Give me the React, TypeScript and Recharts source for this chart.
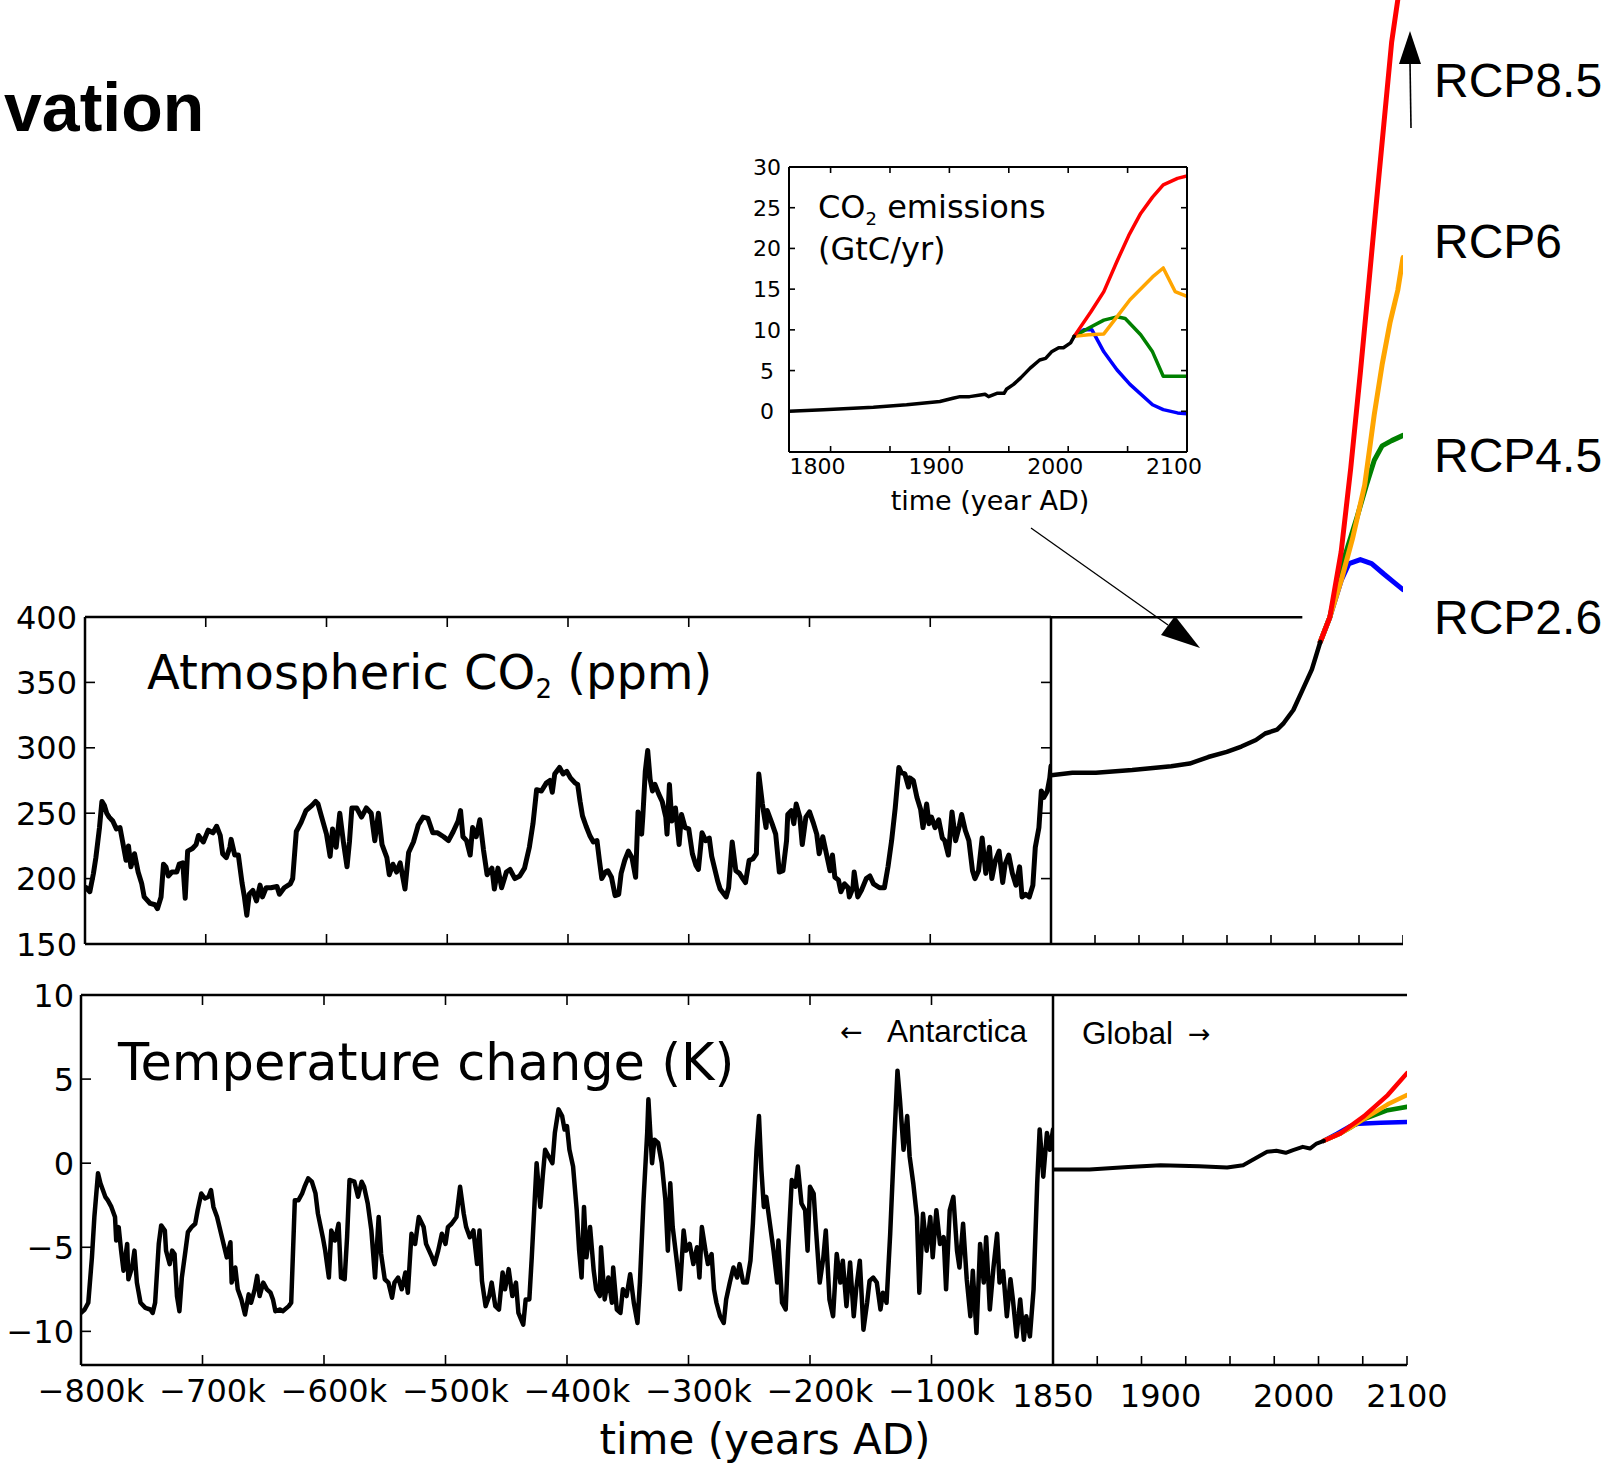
import React from 'react';
import { LineChart, Line, XAxis, YAxis, ReferenceLine } from 'recharts';

// ---------------- data ----------------
// Antarctic ice core CO2 (kyr relative to present, ppm)
const co2IceCore: [number, number][] = [
  [-799,193],[-796,190],[-793,204],[-791,216],[-788,239],[-786,259],[-784,256],[-782,250],[-780,247],[-777,244],[-774,238],[-771,239],[-769,229],[-766,214],[-764,225],[-762,209],[-759,219],[-756,205],[-753,196],[-751,186],[-746,181],[-742,180],[-740,177],[-737,186],[-735,211],[-733,209],[-731,202],[-728,205],[-724,205],[-722,211],[-719,212],[-717,185],[-715,221],[-711,223],[-708,226],[-706,233],[-702,228],[-698,237],[-694,235],[-691,240],[-688,233],[-686,219],[-683,216],[-680,224],[-679,230],[-676,218],[-673,218],[-670,197],[-668,186],[-666,172],[-664,188],[-661,191],[-658,183],[-655,195],[-653,186],[-650,193],[-646,193],[-641,194],[-639,188],[-635,193],[-630,196],[-628,200],[-625,236],[-621,243],[-617,252],[-612,256],[-609,259],[-607,257],[-604,247],[-600,234],[-597,217],[-595,238],[-592,224],[-589,250],[-586,228],[-583,209],[-581,228],[-579,254],[-575,254],[-571,247],[-567,254],[-563,250],[-560,229],[-557,250],[-554,226],[-550,216],[-548,203],[-545,211],[-542,205],[-539,212],[-535,192],[-532,220],[-528,228],[-524,241],[-520,247],[-516,246],[-512,235],[-508,235],[-503,232],[-499,229],[-495,236],[-491,244],[-489,252],[-487,232],[-484,229],[-481,218],[-479,239],[-476,232],[-473,245],[-470,222],[-467,203],[-463,208],[-461,192],[-458,208],[-455,193],[-451,205],[-448,207],[-444,200],[-440,202],[-436,208],[-432,224],[-429,242],[-426,268],[-422,267],[-418,273],[-415,275],[-413,266],[-411,280],[-407,285],[-404,280],[-401,282],[-398,277],
  [-394,273],[-392,272],[-390,259],[-388,248],[-385,240],[-382,233],[-379,228],[-376,229],[-374,214],[-372,200],[-369,205],[-367,206],[-364,201],[-361,187],[-358,188],[-356,204],[-353,214],[-350,221],[-347,216],[-344,201],[-342,251],[-339,234],[-338,248],[-336,282],[-334,298],[-332,276],[-330,267],[-328,272],[-325,265],[-322,259],[-319,247],[-318,234],[-316,272],[-314,244],[-311,254],[-308,226],[-306,249],[-303,239],[-300,238],[-297,219],[-294,210],[-292,207],[-289,235],[-286,229],[-283,231],[-281,217],[-276,198],[-274,192],[-269,186],[-267,193],[-264,228],[-261,206],[-258,204],[-256,201],[-253,197],[-250,214],[-247,215],[-244,219],[-242,280],[-239,257],[-236,239],[-235,252],[-231,242],[-228,234],[-225,205],[-222,206],[-219,229],[-218,249],[-215,252],[-213,242],[-211,257],[-208,247],[-206,226],[-203,247],[-200,251],[-197,243],[-194,234],[-192,219],[-189,232],[-186,219],[-183,206],[-181,218],[-179,201],[-176,199],[-174,190],[-171,196],[-168,193],[-167,186],[-164,193],[-163,205],[-160,186],[-157,191],[-153,200],[-150,202],[-147,196],[-142,193],[-138,193],[-135,209],[-132,229],[-129,254],[-126,285],[-124,281],[-121,280],[-118,270],[-117,277],[-114,275],[-111,262],[-108,253],[-106,239],[-103,257],[-101,242],[-99,247],[-96,239],[-93,245],[-90,231],[-88,229],[-85,218],[-82,251],[-79,229],[-76,240],[-74,249],[-71,237],[-68,229],[-65,206],[-63,200],[-60,206],[-57,231],[-54,204],[-51,224],[-49,200],[-46,214],[-43,221],[-40,197],[-38,211],[-35,218],[-32,204],[-29,195],[-26,209],[-24,186],[-21,188],[-18,186],[-15,195],[-13,224],[-10,239],[-8,267],[-6,262],[-3,267],[-1,277],[0,286]
];

// Antarctic temperature change (kyr, K)
const tempAntarctica: [number, number][] = [
  [-800,-8.9],[-797,-8.7],[-794,-8.3],[-791,-5.6],[-789,-3.2],[-786,-0.6],[-784,-1.2],[-782,-1.6],[-780,-2.0],[-778,-2.2],[-775,-2.6],[-772,-3.2],[-771,-4.6],[-769,-3.8],[-767,-5.2],[-765,-6.4],[-762,-4.8],[-761,-6.9],[-758,-6.2],[-756,-5.2],[-754,-7.1],[-751,-8.3],[-747,-8.6],[-743,-8.7],[-741,-8.9],[-739,-8.3],[-736,-4.8],[-734,-3.7],[-731,-4.0],[-730,-5.2],[-727,-6.0],[-725,-5.2],[-723,-5.4],[-721,-7.9],[-719,-8.8],[-717,-6.8],[-714,-5.2],[-712,-4.1],[-709,-3.8],[-706,-3.6],[-704,-2.8],[-701,-1.8],[-698,-2.1],[-695,-2.0],[-693,-1.6],[-691,-2.6],[-688,-3.2],[-684,-4.4],[-680,-5.6],[-677,-4.7],[-676,-7.1],[-673,-6.2],[-671,-7.5],[-668,-8.1],[-665,-9.0],[-662,-7.8],[-660,-8.3],[-657,-7.5],[-655,-6.7],[-653,-7.9],[-650,-7.1],[-647,-7.5],[-644,-7.7],[-642,-8.1],[-640,-8.8],[-636,-8.7],[-634,-8.8],[-629,-8.5],[-627,-8.3],[-624,-2.2],[-621,-2.2],[-618,-1.8],[-616,-1.4],[-613,-0.9],[-610,-1.1],[-607,-1.8],[-605,-3.0],[-601,-4.4],[-599,-5.2],[-596,-6.8],[-594,-4.0],[-591,-4.6],[-588,-3.6],[-586,-6.8],[-583,-6.9],[-581,-4.4],[-579,-1.0],[-575,-1.1],[-572,-2.0],[-569,-1.1],[-567,-1.4],[-564,-2.4],[-561,-4.0],[-558,-6.8],[-555,-3.2],[-553,-5.4],[-550,-6.9],[-547,-7.1],[-544,-8.0],[-542,-7.1],[-539,-6.8],[-536,-7.5],[-533,-6.5],[-531,-7.7],[-528,-4.2],[-525,-4.8],[-522,-3.2],[-518,-3.8],[-516,-4.8],[-511,-5.6],[-509,-6.0],[-506,-5.2],[-503,-4.2],[-500,-4.8],[-498,-3.8],[-495,-3.6],[-491,-3.2],[-488,-1.4],[-485,-3.0],[-483,-3.8],[-480,-4.4],[-477,-4.0],[-474,-6.0],[-472,-4.0],[-470,-7.0],[-467,-8.5],[-464,-7.9],[-462,-7.1],[-459,-8.5],[-456,-8.7],[-453,-6.5],[-451,-7.5],[-448,-6.3],[-445,-7.9],[-442,-7.1],[-440,-8.9],[-436,-9.6],[-434,-8.1],[-431,-8.1],[-429,-5.6],[-425,0.0],[-422,-2.6],[-420,-0.8],[-418,0.8],[-415,0.4],[-412,0.0],[-410,1.8],[-407,3.2],[-404,2.8],[-402,2.0],
  [-400,2.2],[-398,0.8],[-395,-0.2],[-392,-2.8],[-390,-5.2],[-388,-6.8],[-386,-2.6],[-384,-5.6],[-381,-3.8],[-378,-6.4],[-376,-7.5],[-373,-7.9],[-372,-5.0],[-369,-8.1],[-366,-6.8],[-363,-8.3],[-362,-6.2],[-359,-8.7],[-356,-8.9],[-354,-7.5],[-351,-7.9],[-348,-6.6],[-345,-8.3],[-342,-9.5],[-340,-7.1],[-337,-2.2],[-334,1.8],[-333,3.8],[-330,0.0],[-328,1.4],[-325,1.2],[-322,0.0],[-319,-2.2],[-317,-5.2],[-315,-1.2],[-313,-3.8],[-310,-5.6],[-307,-7.5],[-304,-4.0],[-302,-5.2],[-299,-4.8],[-296,-6.0],[-293,-5.0],[-291,-6.8],[-289,-3.8],[-286,-5.2],[-284,-6.0],[-281,-5.4],[-279,-7.5],[-277,-8.3],[-274,-9.1],[-271,-9.5],[-269,-8.1],[-266,-7.1],[-263,-6.2],[-260,-6.8],[-258,-6.0],[-255,-7.1],[-252,-7.1],[-249,-5.8],[-247,-3.6],[-244,0.8],[-242,2.8],[-240,-0.4],[-238,-2.6],[-236,-2.0],[-233,-3.6],[-230,-5.2],[-227,-7.1],[-226,-4.6],[-223,-8.3],[-220,-8.7],[-218,-5.2],[-215,-1.0],[-212,-1.4],[-210,-0.2],[-207,-2.4],[-204,-2.8],[-202,-5.2],[-200,-1.4],[-197,-1.8],[-195,-4.0],[-192,-7.1],[-189,-5.6],[-187,-4.0],[-184,-8.1],[-181,-9.1],[-178,-5.4],[-175,-7.1],[-173,-5.8],[-170,-8.5],[-167,-5.9],[-164,-9.1],[-162,-7.5],[-159,-5.8],[-156,-9.9],[-153,-8.3],[-151,-7.0],[-148,-6.8],[-145,-7.1],[-142,-8.7],[-140,-7.7],[-137,-8.3],[-134,-4.2],[-131,0.8],[-128,5.5],[-126,3.8],[-123,0.8],[-120,2.8],[-118,0.4],[-115,-1.2],[-112,-3.2],[-110,-7.7],[-107,-3.0],[-104,-5.2],[-101,-3.2],[-99,-5.6],[-96,-2.8],[-93,-4.8],[-90,-4.4],[-88,-7.5],[-85,-2.8],[-82,-2.0],[-79,-5.2],[-77,-6.2],[-74,-3.6],[-71,-6.9],[-68,-9.1],[-66,-6.4],[-63,-10.1],[-60,-4.8],[-57,-7.1],[-55,-4.4],[-52,-8.7],[-49,-6.2],[-46,-4.2],[-44,-7.1],[-41,-6.4],[-38,-9.1],[-35,-6.9],[-33,-8.1],[-30,-10.3],[-27,-8.1],[-24,-10.5],[-22,-9.1],[-19,-10.3],[-16,-7.5],[-13,-1.2],[-11,2.0],[-8,-0.8],[-5,1.8],[-2.5,0.8],[0,2.0]
];

// Recent CO2 (year AD, ppm), read against the figure's own year labels
const co2Historical: [number, number][] = [
  [1850,279],[1860,281],[1871,281],[1888,283],[1910,286],[1924,288],[1938,293],[1952,297],[1963,301],[1974,306],[1981,311],[1990,314],[1995,319],[2000.5,329],[2002,344],[2003.6,360],[2005,381]
];
const co2Rcp26: [number, number][] = [[2005,381],[2016,400],[2029,428],[2038,441],[2051,444],[2064,441],[2078,433],[2089,427],[2100,421]];
const co2Rcp45: [number, number][] = [[2005,381],[2016,400],[2029,438],[2047,476],[2058,501],[2067,520],[2076,531],[2087,535],[2100,539]];
const co2Rcp60: [number, number][] = [[2005,381],[2016,400],[2029,428],[2042,460],[2056,501],[2067,555],[2076,593],[2085,625],[2094,650],[2100,675]];
const co2Rcp85: [number, number][] = [[2005,381],[2016,400],[2029,450],[2040,514],[2051,587],[2060,650],[2069,714],[2078,777],[2087,840],[2094,872],[2100,936]];

// Global temperature change (year AD, K)
const tempHistorical: [number, number][] = [
  [1850,-0.38],[1867,-0.38],[1885,-0.22],[1900,-0.12],[1929,-0.18],[1950,-0.26],[1962,-0.12],[1971,0.28],[1980,0.68],[1987,0.74],[1994,0.62],[1999.5,0.78],[2001.5,0.97],[2002.7,0.87],[2003.8,1.17],[2005,1.33]
];
const tempRcp26: [number, number][] = [[2005,1.33],[2020,1.75],[2035,2.2],[2045,2.35],[2070,2.4],[2100,2.45]];
const tempRcp45: [number, number][] = [[2005,1.33],[2024,1.77],[2035,2.1],[2050,2.6],[2078,3.15],[2100,3.35]];
const tempRcp60: [number, number][] = [[2005,1.33],[2024,1.77],[2035,2.1],[2050,2.6],[2078,3.5],[2100,4.05]];
const tempRcp85: [number, number][] = [[2005,1.33],[2024,1.77],[2035,2.2],[2051,2.8],[2078,4.05],[2100,5.35]];

// CO2 emissions inset (year AD, GtC/yr)
const emisHistorical: [number, number][] = [
  [1765,0.0],[1794,0.2],[1836,0.5],[1864,0.8],[1892,1.2],[1903,1.6],[1909,1.8],[1917,1.8],[1926,2.0],[1930,2.1],[1933,1.8],[1940,2.2],[1946,2.2],[1948,2.7],[1954,3.3],[1960,4.1],[1968,5.3],[1976,6.3],[1981,6.5],[1986,7.3],[1992,7.8],[1996,7.8],[2002,8.4],[2005,9.2]
];
const emisRcp26: [number, number][] = [[2005,9.2],[2013,10.0],[2020,10.0],[2030,7.3],[2041,5.1],[2052,3.3],[2071,0.8],[2080,0.2],[2092,-0.2],[2100,-0.3]];
const emisRcp45: [number, number][] = [[2005,9.2],[2017,10.2],[2030,11.2],[2041,11.6],[2048,11.4],[2061,9.4],[2071,7.3],[2080,4.3],[2089,4.3],[2100,4.3]];
const emisRcp60: [number, number][] = [[2005,9.2],[2017,9.4],[2030,9.5],[2041,11.6],[2052,13.7],[2071,16.5],[2080,17.6],[2090,14.7],[2100,14.1]];
const emisRcp85: [number, number][] = [[2005,9.2],[2019,12.2],[2030,14.7],[2041,18.4],[2051,21.6],[2061,24.3],[2071,26.3],[2080,27.8],[2092,28.6],[2100,28.9]];

// axes / ticks
const KYR_TICKS = [-800, -700, -600, -500, -400, -300, -200, -100];
const CO2_TICKS = [150, 200, 250, 300, 350, 400];
const TEMP_TICKS = [-10, -5, 0, 5, 10];
const EMIS_TICKS = [0, 5, 10, 15, 20, 25, 30];
const EMIS_YEAR_TICKS = [1800, 1850, 1900, 1950, 2000, 2050, 2100];
const EMIS_YEAR_LABELS = [1800, 1900, 2000, 2100];
const RECENT_YEAR_LABELS = [1850, 1900, 2000, 2100];
const RECENT_TICK_UNITS = [1, 2, 3, 4, 5, 6, 7, 8];
const RCP_LABELS = ['RCP8.5', 'RCP6', 'RCP4.5', 'RCP2.6'];

// ---------------- helpers ----------------
const RED = '#ff0000';
const ORANGE = '#ffa500';
const GREEN = '#008000';
const BLUE = '#0000ff';
const F_MAIN = '"DejaVu Sans", "Bitstream Vera Sans", sans-serif';
const F_ANN = '"Liberation Sans", Arial, sans-serif';
const AX = { stroke: '#000', strokeWidth: 2.5 };

// The recent-period axis of the original figure is piecewise (non-uniform):
// breakpoints in years and the axis units (0..8 tick intervals) they sit at.
const WARP_YEARS = [1850, 1900, 2000, 2005, 2100];
const WARP_UNITS = [0, 2.43, 5.44, 6.12, 8];
function warp(year: number): number {
  for (let i = 0; i < WARP_YEARS.length - 1; i++) {
    const a = WARP_YEARS[i];
    const b = WARP_YEARS[i + 1];
    if (year <= b || i === WARP_YEARS.length - 2) {
      return WARP_UNITS[i] + ((year - a) / (b - a)) * (WARP_UNITS[i + 1] - WARP_UNITS[i]);
    }
  }
  return 8;
}

const minus = (v: number) => (v < 0 ? '\u2212' + Math.abs(v) : String(v));

type TickOpts = {
  side: 'bottom' | 'top' | 'left' | 'right';
  len?: number;
  marks?: (v: number) => boolean;
  label?: (v: number) => string | null;
  fontSize?: number;
  fontFamily?: string;
  dx?: number;
  dy?: number;
  anchor?: 'start' | 'middle' | 'end';
};

function tickR(o: TickOpts) {
  return (p: any) => {
    const v = p.payload.value as number;
    const x = p.x as number;
    const y = p.y as number;
    let line: React.ReactNode = null;
    if (o.len && (!o.marks || o.marks(v))) {
      let x2 = x;
      let y2 = y;
      if (o.side === 'bottom') y2 = y - o.len;
      else if (o.side === 'top') y2 = y + o.len;
      else if (o.side === 'left') x2 = x + o.len;
      else x2 = x - o.len;
      line = <line x1={x} y1={y} x2={x2} y2={y2} stroke="#000" strokeWidth={1.6} />;
    }
    const txt = o.label ? o.label(v) : null;
    return (
      <g>
        {line}
        {txt != null && (
          <text
            x={x + (o.dx || 0)}
            y={y + (o.dy || 0)}
            textAnchor={o.anchor || 'middle'}
            fontSize={o.fontSize || 32}
            fontFamily={o.fontFamily || F_MAIN}
            fill="#000"
          >
            {txt}
          </text>
        )}
      </g>
    );
  };
}

const kyrRows = (s: [number, number][]) => s.map(([k, v]) => ({ k, v }));
const recentRows = (s: [number, number][]) => s.map(([yr, v]) => ({ u: warp(yr), v }));
const yearRows = (s: [number, number][]) => s.map(([yr, v]) => ({ yr, v }));

const lineCommon = {
  type: 'linear' as const,
  dot: false,
  activeDot: false,
  isAnimationActive: false,
  strokeLinejoin: 'round' as const,
  strokeLinecap: 'round' as const,
};

const axisCommon = {
  tickLine: false,
  tickSize: 0,
  tickMargin: 0,
  interval: 0 as const,
  allowDataOverflow: true,
};

const near = (a: number, b: number) => Math.abs(a - b) < 1e-6;
const recentLabelTicks = RECENT_YEAR_LABELS.map(warp);
const recentBottomTicks = Array.from(new Set([...recentLabelTicks, ...RECENT_TICK_UNITS]))
  .sort((a, b) => a - b)
  .filter((v, i, arr) => i === 0 || !near(v, arr[i - 1]));

function Abs({ left, top, children }: { left: number; top: number; children: React.ReactNode }) {
  return <div style={{ position: 'absolute', left, top }}>{children}</div>;
}

export default function App() {
  const kyrLabel = (v: number) => (v === 0 ? null : minus(v) + 'k');
  return (
    <div style={{ position: 'absolute', left: 0, top: 0, width: 1608, height: 1465, background: '#fff', overflow: 'hidden' }}>
      {/* Top-left: ice-core CO2 */}
      <Abs left={0} top={597}>
        <LineChart width={1061} height={377} margin={{ top: 0, right: 0, bottom: 0, left: 0 }}>
          <XAxis xAxisId="b" dataKey="k" type="number" domain={[-800, 0]} ticks={KYR_TICKS} height={30} orientation="bottom"
            axisLine={AX} {...axisCommon} tick={tickR({ side: 'bottom', len: 10, marks: (v) => v > -800 })} />
          <XAxis xAxisId="t" dataKey="k" type="number" domain={[-800, 0]} ticks={KYR_TICKS} height={20} orientation="top"
            axisLine={AX} {...axisCommon} tick={tickR({ side: 'top', len: 10, marks: (v) => v > -800 })} />
          <YAxis yAxisId="l" type="number" domain={[150, 400]} ticks={CO2_TICKS} width={85} orientation="left"
            axisLine={AX} {...axisCommon}
            tick={tickR({ side: 'left', len: 10, marks: (v) => v > 150 && v < 400, label: (v) => String(v), anchor: 'end', dx: -8, dy: 11.5 })} />
          <YAxis yAxisId="r" type="number" domain={[150, 400]} ticks={[200, 250, 300, 350]} width={10} orientation="right"
            axisLine={AX} {...axisCommon} tick={tickR({ side: 'right', len: 10 })} />
          <Line xAxisId="b" yAxisId="l" data={kyrRows(co2IceCore)} dataKey="v" stroke="#000" strokeWidth={5} {...lineCommon} />
        </LineChart>
      </Abs>

      {/* Top-right: recent CO2 and RCP scenarios */}
      <Abs left={1051} top={0}>
        <LineChart width={352} height={954} margin={{ top: 0, right: 0, bottom: 0, left: 0 }}>
          <XAxis xAxisId="b" dataKey="u" type="number" domain={[0, 8]} ticks={RECENT_TICK_UNITS} height={10} orientation="bottom"
            axisLine={AX} {...axisCommon} tick={tickR({ side: 'bottom', len: 9 })} />
          <YAxis yAxisId="l" type="number" domain={[150, 872]} hide allowDataOverflow />
          <ReferenceLine xAxisId="b" yAxisId="l" segment={[{ x: warp(1850), y: 400 }, { x: warp(2002), y: 400 }]} stroke="#000" strokeWidth={2.5} />
          <Line xAxisId="b" yAxisId="l" data={recentRows(co2Rcp26)} dataKey="v" stroke={BLUE} strokeWidth={5} {...lineCommon} />
          <Line xAxisId="b" yAxisId="l" data={recentRows(co2Rcp45)} dataKey="v" stroke={GREEN} strokeWidth={5} {...lineCommon} />
          <Line xAxisId="b" yAxisId="l" data={recentRows(co2Rcp60)} dataKey="v" stroke={ORANGE} strokeWidth={5} {...lineCommon} />
          <Line xAxisId="b" yAxisId="l" data={recentRows(co2Rcp85)} dataKey="v" stroke={RED} strokeWidth={5} {...lineCommon} />
          <Line xAxisId="b" yAxisId="l" data={recentRows(co2Historical)} dataKey="v" stroke="#000" strokeWidth={4.5} {...lineCommon} />
        </LineChart>
      </Abs>

      {/* Bottom-left: Antarctic temperature */}
      <Abs left={0} top={975}>
        <LineChart width={1061} height={450} margin={{ top: 0, right: 0, bottom: 0, left: 0 }}>
          <XAxis xAxisId="b" dataKey="k" type="number" domain={[-800, 0]} ticks={KYR_TICKS} height={60} orientation="bottom"
            axisLine={AX} {...axisCommon}
            tick={tickR({ side: 'bottom', len: 10, marks: (v) => v > -800, label: kyrLabel, dx: 10, dy: 37 })} />
          <XAxis xAxisId="t" dataKey="k" type="number" domain={[-800, 0]} ticks={KYR_TICKS} height={20} orientation="top"
            axisLine={AX} {...axisCommon} tick={tickR({ side: 'top', len: 10, marks: (v) => v > -800 })} />
          <YAxis yAxisId="l" type="number" domain={[-12, 10]} ticks={TEMP_TICKS} width={81} orientation="left"
            axisLine={AX} {...axisCommon}
            tick={tickR({ side: 'left', len: 10, marks: (v) => v < 10, label: minus, anchor: 'end', dx: -7, dy: 11.5 })} />
          <YAxis yAxisId="r" type="number" domain={[-12, 10]} ticks={[]} width={8} orientation="right"
            axisLine={AX} {...axisCommon} tick={false} />
          <Line xAxisId="b" yAxisId="l" data={kyrRows(tempAntarctica)} dataKey="v" stroke="#000" strokeWidth={4.5} {...lineCommon} />
        </LineChart>
      </Abs>

      {/* Bottom-right: global temperature */}
      <Abs left={1003} top={975}>
        <LineChart width={464} height={450} margin={{ top: 0, right: 60, bottom: 0, left: 50 }}>
          <XAxis xAxisId="b" dataKey="u" type="number" domain={[0, 8]} ticks={recentBottomTicks} height={60} orientation="bottom"
            axisLine={AX} {...axisCommon}
            tick={tickR({
              side: 'bottom',
              len: 9,
              marks: (v) => v >= 1 - 1e-9 && near(v, Math.round(v)),
              label: (v) => {
                const yr = RECENT_YEAR_LABELS.find((y) => near(warp(y), v));
                return yr == null ? null : String(yr);
              },
              dy: 42,
            })} />
          <XAxis xAxisId="t" dataKey="u" type="number" domain={[0, 8]} ticks={[]} height={20} orientation="top"
            axisLine={AX} {...axisCommon} tick={false} />
          <YAxis yAxisId="l" type="number" domain={[-12, 10]} hide allowDataOverflow />
          <Line xAxisId="b" yAxisId="l" data={recentRows(tempRcp26)} dataKey="v" stroke={BLUE} strokeWidth={4.5} {...lineCommon} />
          <Line xAxisId="b" yAxisId="l" data={recentRows(tempRcp45)} dataKey="v" stroke={GREEN} strokeWidth={4.5} {...lineCommon} />
          <Line xAxisId="b" yAxisId="l" data={recentRows(tempRcp60)} dataKey="v" stroke={ORANGE} strokeWidth={4.5} {...lineCommon} />
          <Line xAxisId="b" yAxisId="l" data={recentRows(tempRcp85)} dataKey="v" stroke={RED} strokeWidth={4.5} {...lineCommon} />
          <Line xAxisId="b" yAxisId="l" data={recentRows(tempHistorical)} dataKey="v" stroke="#000" strokeWidth={4} {...lineCommon} />
        </LineChart>
      </Abs>

      {/* Inset: CO2 emissions */}
      <Abs left={729} top={150}>
        <LineChart width={483} height={332} margin={{ top: 0, right: 20, bottom: 0, left: 0 }}>
          <XAxis xAxisId="b" dataKey="yr" type="number" domain={[1765, 2100]} ticks={EMIS_YEAR_TICKS} height={30} orientation="bottom"
            axisLine={{ stroke: '#000', strokeWidth: 2 }} {...axisCommon}
            tick={tickR({
              side: 'bottom', len: 6, marks: (v) => v < 2100,
              label: (v) => (EMIS_YEAR_LABELS.includes(v) ? String(v) : null),
              fontSize: 22, dx: -13, dy: 22,
            })} />
          <XAxis xAxisId="t" dataKey="yr" type="number" domain={[1765, 2100]} ticks={EMIS_YEAR_TICKS} height={17} orientation="top"
            axisLine={{ stroke: '#000', strokeWidth: 2 }} {...axisCommon} tick={tickR({ side: 'top', len: 6, marks: (v) => v < 2100 })} />
          <YAxis yAxisId="l" type="number" domain={[-5, 30]} ticks={EMIS_TICKS} width={60} orientation="left"
            axisLine={{ stroke: '#000', strokeWidth: 2 }} {...axisCommon}
            tick={tickR({ side: 'left', len: 6, marks: (v) => v < 30, label: (v) => String(v), fontSize: 22, dx: -22, dy: 8 })} />
          <YAxis yAxisId="r" type="number" domain={[-5, 30]} ticks={EMIS_TICKS} width={5} orientation="right"
            axisLine={{ stroke: '#000', strokeWidth: 2 }} {...axisCommon} tick={tickR({ side: 'right', len: 6, marks: (v) => v < 30 })} />
          <Line xAxisId="b" yAxisId="l" data={yearRows(emisRcp26)} dataKey="v" stroke={BLUE} strokeWidth={3.5} {...lineCommon} />
          <Line xAxisId="b" yAxisId="l" data={yearRows(emisRcp45)} dataKey="v" stroke={GREEN} strokeWidth={3.5} {...lineCommon} />
          <Line xAxisId="b" yAxisId="l" data={yearRows(emisRcp60)} dataKey="v" stroke={ORANGE} strokeWidth={3.5} {...lineCommon} />
          <Line xAxisId="b" yAxisId="l" data={yearRows(emisRcp85)} dataKey="v" stroke={RED} strokeWidth={3.5} {...lineCommon} />
          <Line xAxisId="b" yAxisId="l" data={yearRows(emisHistorical)} dataKey="v" stroke="#000" strokeWidth={3.5} {...lineCommon} />
        </LineChart>
      </Abs>

      {/* Annotations */}
      <svg width={1608} height={1465} style={{ position: 'absolute', left: 0, top: 0, pointerEvents: 'none' }}>
        <text x={4} y={131} fontFamily={F_ANN} fontWeight="bold" fontSize={68} fill="#000">vation</text>

        <text x={147} y={689} fontFamily={F_MAIN} fontSize={48} fill="#000">
          Atmospheric CO<tspan fontSize={26} dy={9}>2</tspan><tspan dy={-9}> (ppm)</tspan>
        </text>
        <text x={118} y={1080} fontFamily={F_MAIN} fontSize={51} fill="#000">Temperature change (K)</text>

        <text x={840} y={1041} fontFamily={F_MAIN} fontSize={27} fill="#000">←</text>
        <text x={887} y={1042} fontFamily={F_ANN} fontSize={31.5} fill="#000">Antarctica</text>
        <text x={1082} y={1044} fontFamily={F_ANN} fontSize={31.5} fill="#000">Global</text>
        <text x={1188} y={1043} fontFamily={F_MAIN} fontSize={27} fill="#000">→</text>

        <text x={765} y={1454} textAnchor="middle" fontFamily={F_MAIN} fontSize={42} fill="#000">time (years AD)</text>

        <text x={818} y={218} fontFamily={F_MAIN} fontSize={32} fill="#000">
          CO<tspan fontSize={18} dy={7}>2</tspan><tspan dy={-7}> emissions</tspan>
        </text>
        <text x={818} y={260} fontFamily={F_MAIN} fontSize={32} fill="#000">(GtC/yr)</text>
        <text x={990} y={510} textAnchor="middle" fontFamily={F_MAIN} fontSize={27} fill="#000">time (year AD)</text>

        {RCP_LABELS.map((name, i) => (
          <text key={name} x={1434} y={[97, 258, 472, 634][i]} fontFamily={F_ANN} fontSize={48} fill="#000">{name}</text>
        ))}

        {/* arrow from inset to recent CO2 panel */}
        <line x1={1031} y1={528} x2={1168} y2={625} stroke="#000" strokeWidth={1.3} />
        <polygon points="1200,648 1161,635 1175,616" fill="#000" />
        {/* upward arrow for RCP8.5 */}
        <line x1={1411} y1={128} x2={1410} y2={62} stroke="#000" strokeWidth={1.6} />
        <polygon points="1410,31 1399,64 1421,64" fill="#000" />
      </svg>
    </div>
  );
}
